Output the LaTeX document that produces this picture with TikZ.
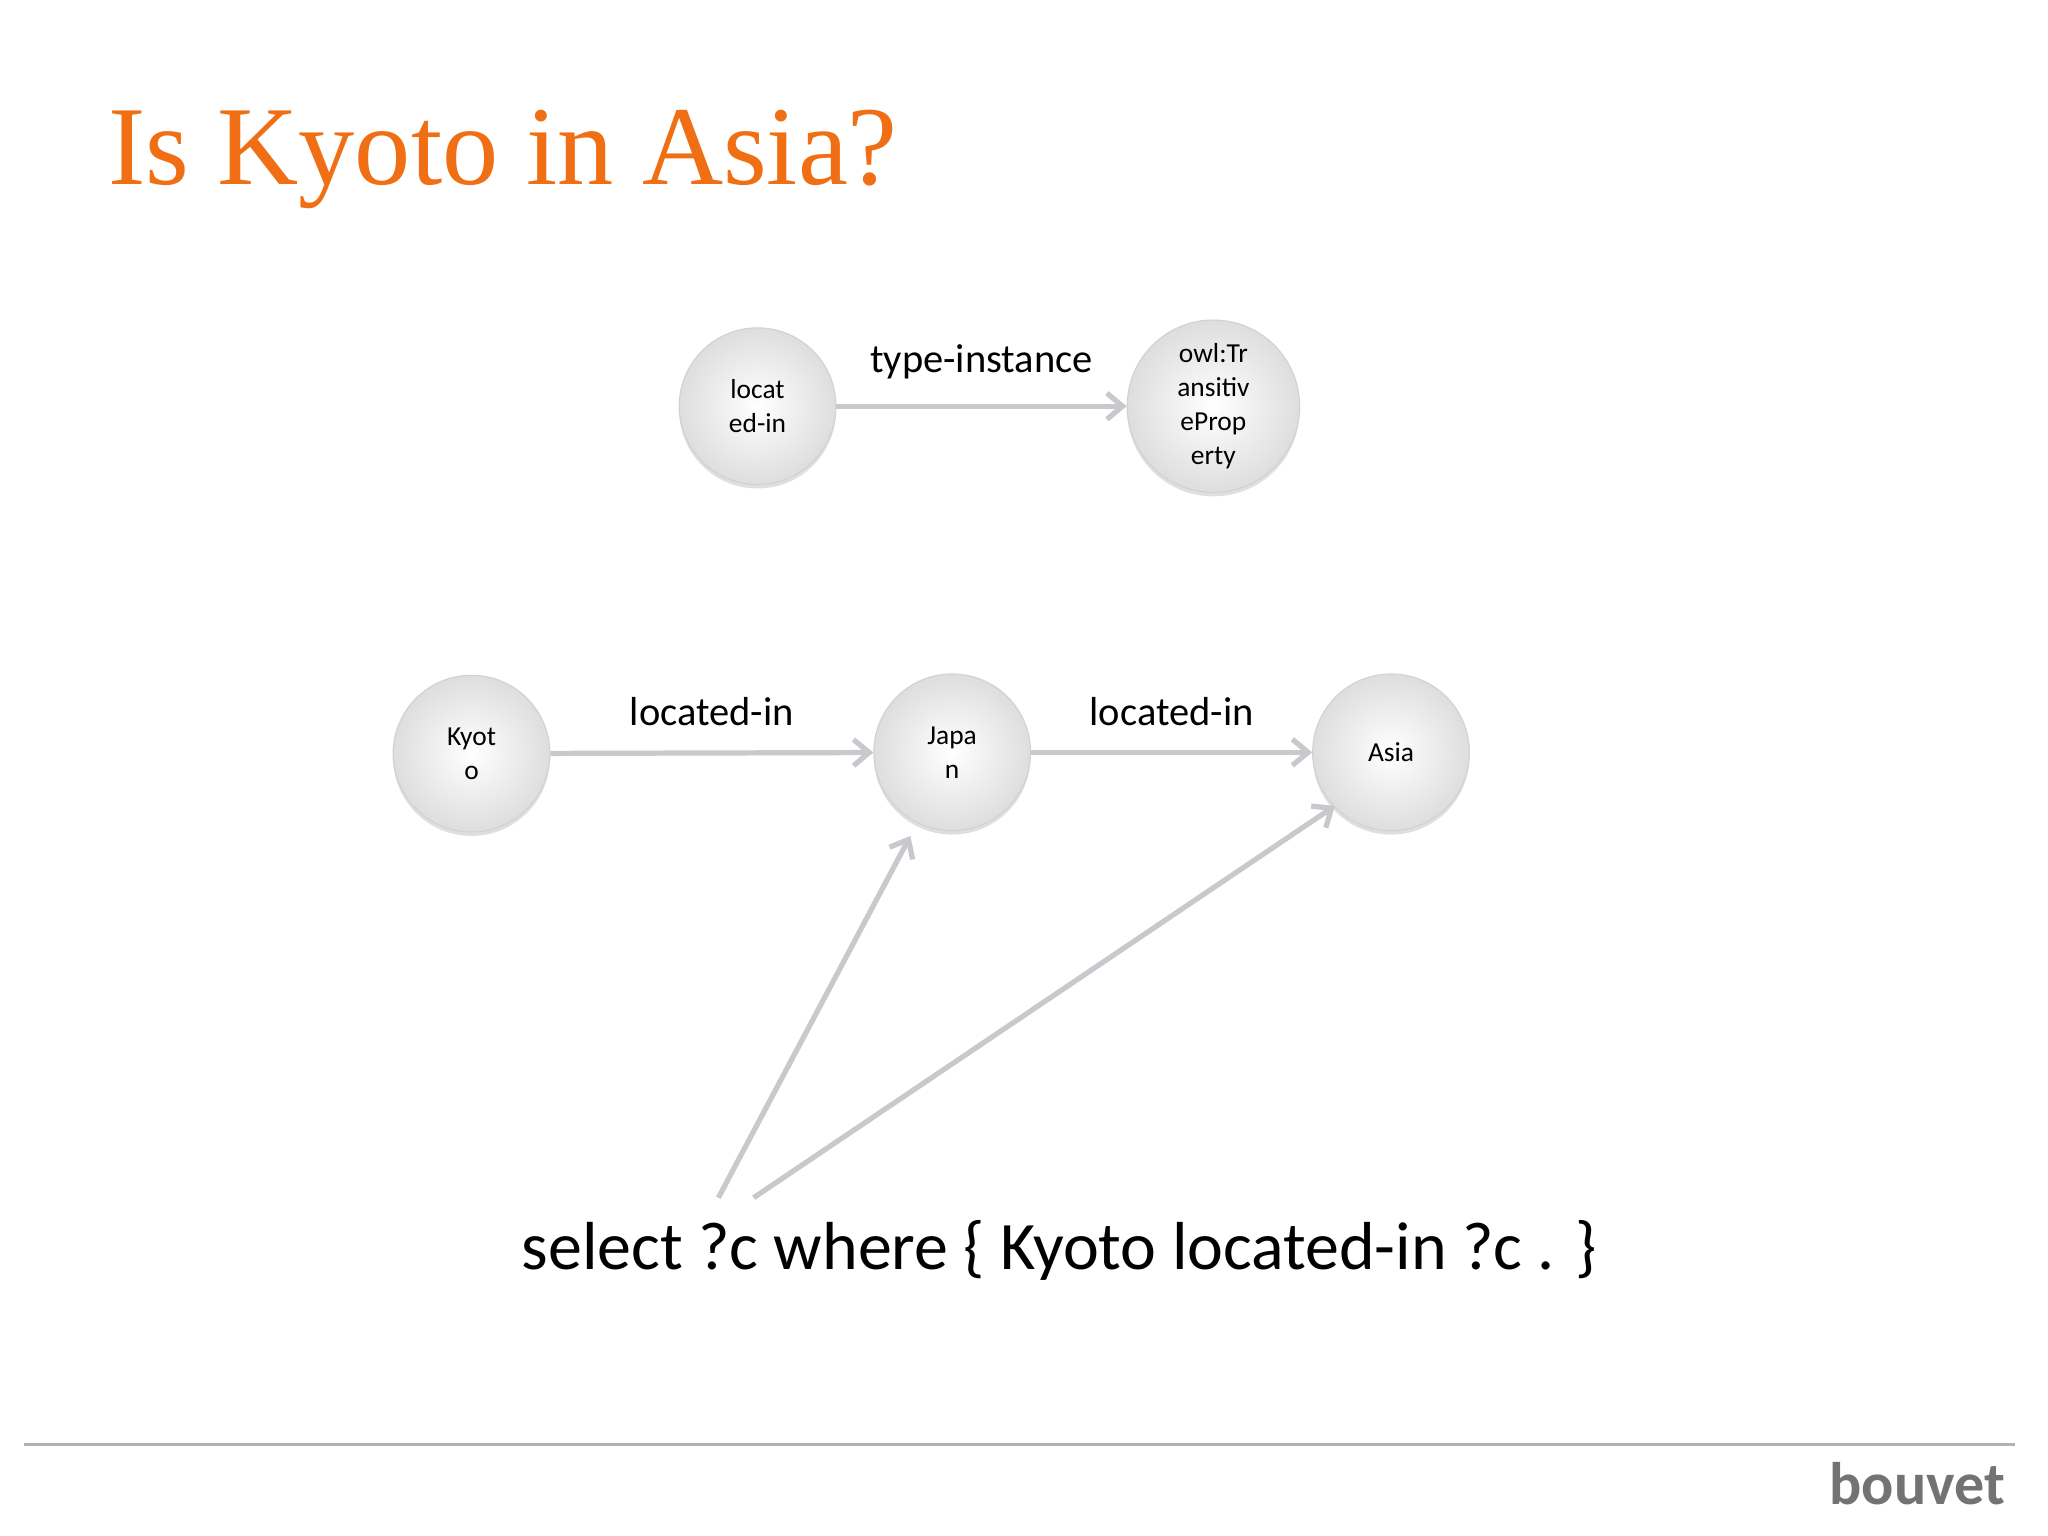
\documentclass[tikz,border=0pt]{standalone}
\usepackage{fontspec}
\setmainfont{Carlito}
\newfontfamily\titlefont{Liberation Serif}
\usetikzlibrary{arrows.meta,shadows}
\definecolor{orng}{RGB}{240,110,20}
\definecolor{ar}{RGB}{200,200,205}
\tikzset{
 px/.style={x=0.5pt,y=-0.5pt},
 bub/.style={circle,minimum size=60pt,inner sep=0pt,align=center,font=\fontsize{10.5}{13}\selectfont,
   shading=radial,inner color=white,outer color=black!13,draw=black!18,
   drop shadow={shadow xshift=0pt,shadow yshift=-1.5pt,opacity=0.25}},
 con/.style={draw=ar,line width=2pt,-{Straight Barb[length=6pt,width=10pt]}},
 lab/.style={font=\fontsize{15.5}{18}\selectfont}
}
\begin{document}
\begin{tikzpicture}[px]
\useasboundingbox (0,0) rectangle (1568,1176);
\fill[white] (0,0) rectangle (1568,1176);
\node[anchor=west,text=orng,font=\titlefont\fontsize{43}{50}\selectfont] (t) at (76,122) {Is Kyoto in Asia?};
\node[bub] (li) at (580,311) {locat\\ed-in};
\node[bub,minimum size=66pt] (owl) at (929,311) {owl:Tr\\ansitiv\\eProp\\erty};
\node[bub] (ky) at (361,577) {Kyot\\o};
\node[bub] (ja) at (729,576) {Japa\\n};
\node[bub] (as) at (1065,576) {Asia};
\draw[con] (li) -- (owl) node[midway,above=6pt,lab] {type-instance};
\draw[con] (ky) -- (ja) node[midway,above=6pt,lab] {located-in};
\draw[con] (ja) -- (as) node[midway,above=6pt,lab] {located-in};
\node[font=\fontsize{26}{30}\selectfont] (q) at (811,957) {select ?c where \{ Kyoto located-in ?c . \}};
\coordinate (q1) at (550,917);
\coordinate (q2) at (577,917);
\draw[con] (q1) -- (697,640);
\draw[con] (q2) -- (1022,617);
\draw[black!30,line width=1pt] (18,1106) -- (1543,1106);
\node[anchor=east,text=black!55,font=\fontsize{23}{25}\selectfont\bfseries] (logo) at (1542,1136) {bouvet};
\end{tikzpicture}
\end{document}
